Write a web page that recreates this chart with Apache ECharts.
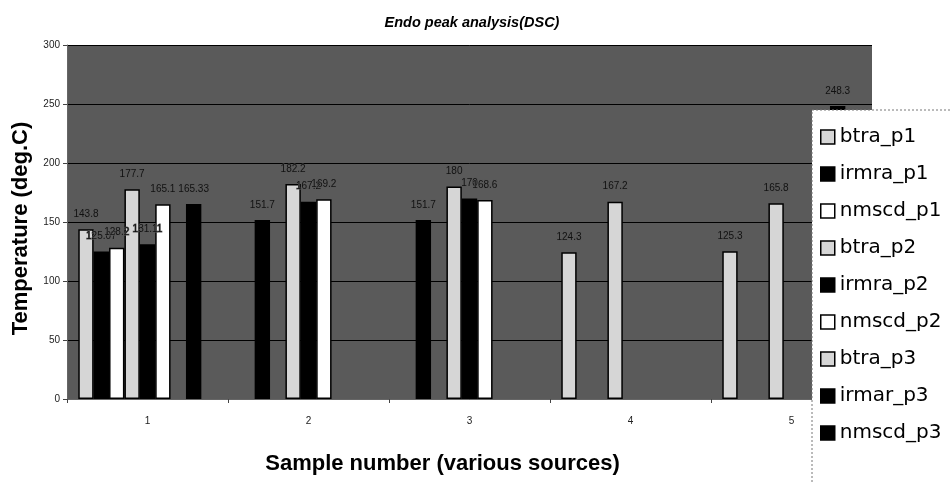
<!DOCTYPE html>
<html>
<head>
<meta charset="utf-8">
<script src="https://cdn.jsdelivr.net/npm/echarts@6/dist/echarts.min.js"></script>
<style>html,body{margin:0;padding:0;background:#fff}#c{width:950px;height:482px}</style>
</head>
<body>
<div id="c"></div>
<script>
var categories = ['1', '2', '3', '4', '5'];
var seriesNames = ['btra_p1', 'irmra_p1', 'nmscd_p1', 'btra_p2', 'irmra_p2', 'nmscd_p2', 'btra_p3', 'irmar_p3', 'nmscd_p3'];
var btra_p1  = [143.8, null, null, 124.3, 125.3];
var irmra_p1 = [125.07, 151.7, 151.7, null, null];
var nmscd_p1 = [128.2, null, null, null, null];
var btra_p2  = [177.7, 182.2, 180.0, 167.2, 165.8];
var irmra_p2 = [131.11, 167.2, 170.0, null, null];
var nmscd_p2 = [165.1, 169.2, 168.6, null, null];
var btra_p3  = [null, null, null, null, null];
var irmar_p3 = [165.33, null, null, null, 248.3];
var nmscd_p3 = [null, null, null, null, null];
var yTicks = [0, 50, 100, 150, 200, 250, 300];

var values = [btra_p1, irmra_p1, nmscd_p1, btra_p2, irmra_p2, nmscd_p2, btra_p3, irmar_p3, nmscd_p3];
var fills = ['#d6d6d6', '#000000', '#ffffff', '#d6d6d6', '#000000', '#ffffff', '#d6d6d6', '#000000', '#000000'];
var FONT = '"Liberation Sans", Arial, sans-serif';

var series = seriesNames.map(function (n, i) {
  return {
    name: n,
    type: 'bar',
    data: values[i],
    barGap: '0%',
    barCategoryGap: '14%',
    itemStyle: { color: fills[i], borderColor: '#000', borderWidth: 1.5 },
    label: {
      show: true, position: 'top', distance: 10,
      fontFamily: FONT, fontSize: 10, color: '#111111',
      textBorderColor: '#5a5a5a', textBorderWidth: 1,
      formatter: function (p) { return p.value == null ? '' : String(p.value); }
    }
  };
});

var chart = echarts.init(document.getElementById('c'), null, { renderer: 'canvas' });
chart.setOption({
  animation: false,
  backgroundColor: '#ffffff',
  title: {
    text: 'Endo peak analysis(DSC)',
    left: 467, top: 10, textAlign: 'center',
    textStyle: { fontFamily: FONT, fontSize: 14.5, fontWeight: 'bold', fontStyle: 'italic', color: '#000' }
  },
  grid: {
    left: 67, right: 78, top: 45, bottom: 83,
    show: true, backgroundColor: '#5a5a5a', borderWidth: 0
  },
  xAxis: {
    type: 'category',
    data: categories,
    name: 'Sample number (various sources)',
    nameLocation: 'middle',
    nameGap: 54,
    nameTextStyle: { fontFamily: FONT, fontSize: 22, fontWeight: 'bold', color: '#000', padding: [0, 54, 0, 0] },
    axisLine: { lineStyle: { color: '#666', width: 1 } },
    axisTick: { show: true, length: 4, lineStyle: { color: '#444' } },
    axisLabel: { fontFamily: FONT, fontSize: 10, color: '#222', margin: 17 }
  },
  yAxis: {
    type: 'value',
    min: 0, max: 300, interval: 50,
    name: 'Temperature (deg.C)',
    nameLocation: 'middle',
    nameGap: 24,
    nameTextStyle: { fontFamily: FONT, fontSize: 22, fontWeight: 'bold', color: '#000', padding: [0, 13, 0, 0] },
    axisLine: { show: true, lineStyle: { color: '#666', width: 1 } },
    axisTick: { show: true, length: 4, lineStyle: { color: '#444' } },
    axisLabel: { fontFamily: FONT, fontSize: 10, color: '#222', margin: 7,
      formatter: function (v) { return yTicks.indexOf(v) >= 0 ? String(v) : ''; } },
    splitLine: { show: true, lineStyle: { color: '#000', width: 1 } }
  },
  graphic: [{
    type: 'rect', z: 50,
    shape: { x: 812, y: 110, width: 150, height: 380 },
    style: { fill: '#ffffff', stroke: '#777', lineWidth: 1, lineDash: [2, 2] }
  }],
  legend: {
    orient: 'vertical',
    left: 812, top: 110,
    z: 60,
    padding: [17, 10, 10, 8],
    itemWidth: 14, itemHeight: 14, itemGap: 17,
    icon: 'rect',
    textStyle: { fontFamily: '"DejaVu Sans", sans-serif', fontSize: 20, color: '#000', lineHeight: 20, padding: [0, 0, 0, 0] },
    data: seriesNames.map(function (n, i) {
      return { name: n, itemStyle: { color: fills[i], borderColor: '#000', borderWidth: 1.5 } };
    })
  },
  series: series
});
</script>
</body>
</html>
